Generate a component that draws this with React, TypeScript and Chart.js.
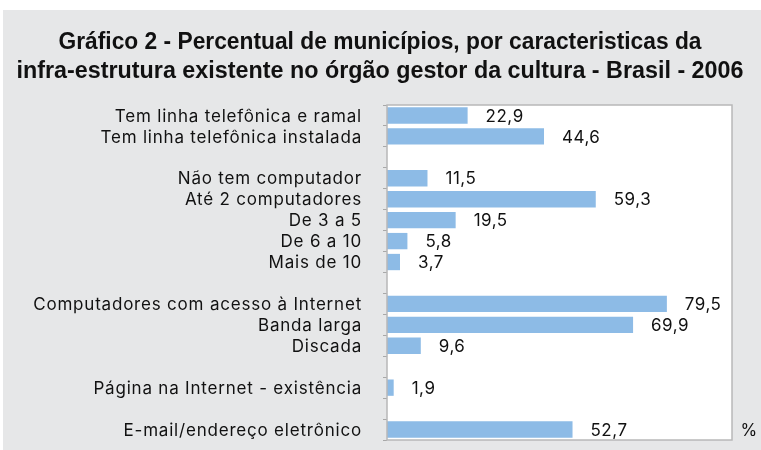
import React, { useEffect, useRef } from "react";
import { Chart, registerables } from "chart.js";

Chart.register(...registerables);

const categories: string[] = [
  "Tem linha telefônica e ramal",
  "Tem linha telefônica instalada",
  "",
  "Não tem computador",
  "Até 2 computadores",
  "De 3 a 5",
  "De 6 a 10",
  "Mais de 10",
  "",
  "Computadores com acesso à Internet",
  "Banda larga",
  "Discada",
  "",
  "Página na Internet - existência",
  "",
  "E-mail/endereço eletrônico",
];

const values: (number | null)[] = [
  22.9, 44.6, null, 11.5, 59.3, 19.5, 5.8, 3.7, null, 79.5, 69.9, 9.6, null, 1.9, null, 52.7,
];

const titleLines: string[] = [
  "Gráfico 2 - Percentual de municípios, por caracteristicas da",
  "infra-estrutura existente no órgão gestor da cultura - Brasil - 2006",
];
const titleWidths: number[] = [643, 727];

const unitLabel = "%";

const fmt = (v: number) => v.toFixed(1).replace(".", ",");

const FONT = "'Liberation Sans', Arial, Helvetica, sans-serif";
const LABEL_FONT = "Inter, 'Liberation Sans', Arial, sans-serif";

export default function App() {
  const ref = useRef<HTMLCanvasElement | null>(null);

  useEffect(() => {
    if (!ref.current) return;
    const overlay = {
      id: "overlay",
      beforeDraw(chart: any) {
        const { ctx, chartArea } = chart;
        ctx.save();
        ctx.fillStyle = "#ffffff";
        ctx.fillRect(chartArea.left, chartArea.top, chartArea.right - chartArea.left, chartArea.bottom - chartArea.top);
        ctx.restore();
      },
      afterDraw(chart: any) {
        const { ctx, chartArea } = chart;
        ctx.save();
        ctx.strokeStyle = "#b8b8b8";
        ctx.lineWidth = 1.5;
        ctx.strokeRect(chartArea.left, chartArea.top, chartArea.right - chartArea.left, chartArea.bottom - chartArea.top);
        // title
        ctx.fillStyle = "#111111";
        ctx.font = "bold 23px " + FONT;
        ctx.textAlign = "center";
        ctx.textBaseline = "middle";
        const tys = [43, 72];
        titleLines.forEach((t, i) => {
          const w = ctx.measureText(t).width;
          const sx = titleWidths[i] / w;
          ctx.save();
          ctx.translate(380, tys[i]);
          ctx.scale(sx, 1);
          ctx.fillText(t, 0, 0);
          ctx.restore();
        });
        // category labels
        const yScale = chart.scales.y;
        (ctx as any).letterSpacing = "0.8px";
        ctx.font = "17px " + LABEL_FONT;
        ctx.textAlign = "right";
        categories.forEach((c, i) => {
          if (!c) return;
          ctx.fillText(c, 362, yScale.getPixelForTick(i) + 1);
        });
        // value labels
        const meta = chart.getDatasetMeta(0);
        (ctx as any).letterSpacing = "0.5px";
        ctx.textAlign = "left";
        meta.data.forEach((el: any, i: number) => {
          const v = values[i];
          if (v == null) return;
          ctx.fillText(fmt(v), el.x + 18, el.y + 1);
        });
        const last = meta.data[meta.data.length - 1];
        ctx.textAlign = "center";
        ctx.fillText(unitLabel, chartArea.right + 17, last.y + 1);
        ctx.restore();
      },
    };

    const chart = new Chart(ref.current, {
      type: "bar",
      data: {
        labels: categories,
        datasets: [
          {
            data: values as any,
            backgroundColor: "#8dbbe6",
            borderWidth: 0,
            categoryPercentage: 1,
            barPercentage: 0.78,
          },
        ],
      },
      options: {
        indexAxis: "y",
        responsive: false,
        animation: false,
        layout: { padding: { top: 105, right: 29, bottom: 10, left: 0 } },
        plugins: {
          legend: { display: false },
          tooltip: { enabled: false },
          title: { display: false },
        },
        scales: {
          x: {
            display: false,
            min: 0,
            max: 98,
          },
          y: {
            afterFit: (scale: any) => {
              scale.width = 387;
            },
            grid: {
              offset: true,
              drawOnChartArea: false,
              drawTicks: true,
              tickLength: 4,
              color: "#a8a8a8",
            },
            border: { display: false },
            ticks: {
              display: false,
              autoSkip: false,
            },
          },
        },
      },
      plugins: [overlay],
    });
    return () => chart.destroy();
  }, []);

  return (
    <div style={{ position: "absolute", left: 0, top: 0, width: 761, height: 450, background: "#ffffff" }}>
      <div style={{ position: "absolute", left: 3, top: 10, width: 758, height: 440, background: "#e6e7e8" }} />
      <canvas ref={ref} width={761} height={450} style={{ position: "absolute", left: 0, top: 0 }} />
    </div>
  );
}
